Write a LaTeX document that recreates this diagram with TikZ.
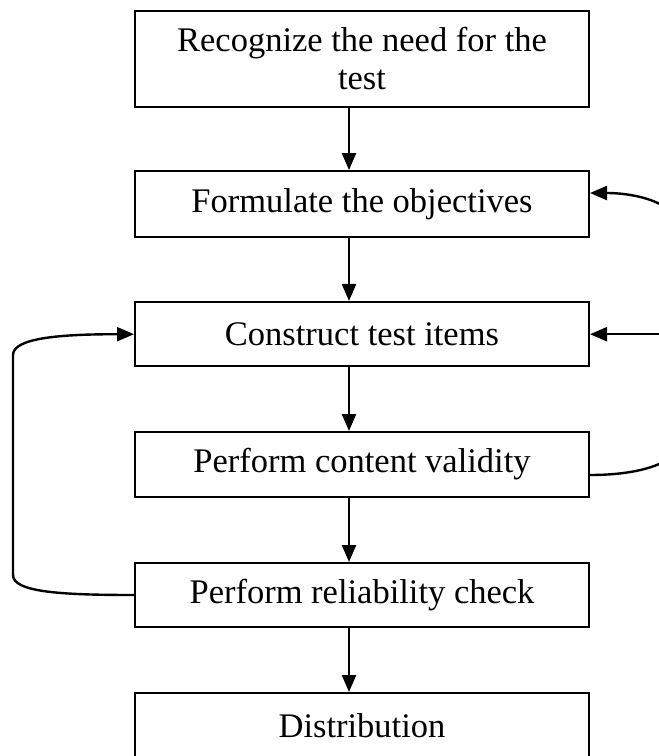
\documentclass[tikz,border=0pt]{standalone}
\usepackage{fontspec}
\setmainfont{Liberation Serif}
\usetikzlibrary{arrows.meta}
\begin{document}
\begin{tikzpicture}[x=1pt,y=-1pt,
  box/.style={draw, line width=2pt, minimum width=454pt, inner sep=0pt, align=center, font=\fontsize{34.5}{38}\selectfont},
  arr/.style={line width=2.4pt, -{Triangle[length=17pt,width=14pt]}}]
\clip (0,0) rectangle (659,756);
\node[box, minimum height=96.5pt] (b1) at (362,58.8) {Recognize the need for the\\test};
\node[box, minimum height=65.5pt] (b2) at (362,203.8) {Formulate the objectives};
\node[box, minimum height=64.5pt] (b3) at (362,334.2) {Construct test items};
\node[box, minimum height=65pt] (b4) at (362,464.5) {Perform content validity};
\node[box, minimum height=64pt] (b5) at (362,595) {Perform reliability check};
\node[box, minimum height=65pt] (b6) at (362,725.5) {Distribution};
\coordinate (ax) at (349,0);
\draw[arr] (b1.south -| ax) -- (b2.north -| ax);
\draw[arr] (b2.south -| ax) -- (b3.north -| ax);
\draw[arr] (b3.south -| ax) -- (b4.north -| ax);
\draw[arr] (b4.south -| ax) -- (b5.north -| ax);
\draw[arr] (b5.south -| ax) -- (b6.north -| ax);
% left loop
\coordinate (lt) at (13,355);
\coordinate (lb) at (13,575);
\draw[arr] (b5.west) .. controls (60,595) and (13,592) .. (lb) -- (lt) .. controls (13,338) and (60,334.2) .. (b3.west);
% right loop
\coordinate (rt) at (680,230);
\coordinate (rb) at (680,440);
\coordinate (rm) at (680,334.2);
\draw[arr] ([yshift=-10.5pt]b4.east) .. controls (640,475) and (680,463) .. (rb) -- (rt) .. controls (680,205) and (640,193) .. ([yshift=10.8pt]b2.east);
\draw[arr] (rm) -- (b3.east);
\end{tikzpicture}
\end{document}
